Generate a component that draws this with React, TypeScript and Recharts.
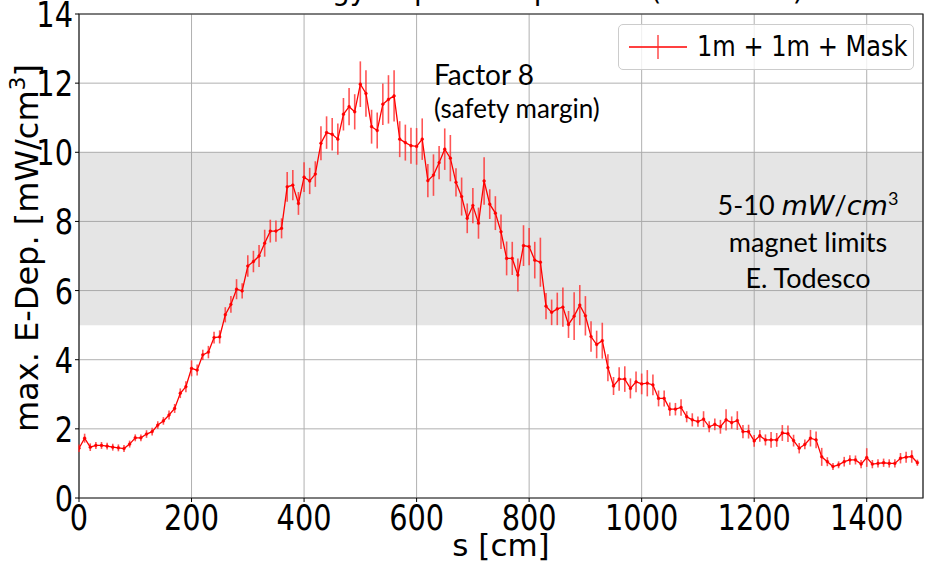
import React from 'react';
import {
    ComposedChart, Line, ErrorBar, XAxis, YAxis, CartesianGrid, ReferenceArea,
} from 'recharts';

// s position along the element [cm]
const S_CM = [
    0, 10, 20, 30, 40, 50, 60, 70, 80, 90,
    100, 110, 120, 130, 140, 150, 160, 170, 180, 190,
    200, 210, 220, 230, 240, 250, 260, 270, 280, 290,
    300, 310, 320, 330, 340, 350, 360, 370, 380, 390,
    400, 410, 420, 430, 440, 450, 460, 470, 480, 490,
    500, 510, 520, 530, 540, 550, 560, 570, 580, 590,
    600, 610, 620, 630, 640, 650, 660, 670, 680, 690,
    700, 710, 720, 730, 740, 750, 760, 770, 780, 790,
    800, 810, 820, 830, 840, 850, 860, 870, 880, 890,
    900, 910, 920, 930, 940, 950, 960, 970, 980, 990,
    1000, 1010, 1020, 1030, 1040, 1050, 1060, 1070, 1080, 1090,
    1100, 1110, 1120, 1130, 1140, 1150, 1160, 1170, 1180, 1190,
    1200, 1210, 1220, 1230, 1240, 1250, 1260, 1270, 1280, 1290,
    1300, 1310, 1320, 1330, 1340, 1350, 1360, 1370, 1380, 1390,
    1400, 1410, 1420, 1430, 1440, 1450, 1460, 1470, 1480, 1490,
];

// max. energy deposition [mW/cm3], "1m + 1m + Mask"
const EDEP = [
    1.44, 1.73, 1.47, 1.52, 1.52, 1.50, 1.47, 1.45, 1.43, 1.56,
    1.74, 1.74, 1.85, 1.92, 2.11, 2.23, 2.40, 2.59, 3.03, 3.22,
    3.75, 3.70, 4.14, 4.22, 4.64, 4.66, 5.30, 5.60, 6.04, 5.99,
    6.71, 6.84, 7.00, 7.37, 7.72, 7.72, 7.80, 9.00, 9.05, 8.52,
    9.28, 9.17, 9.37, 10.26, 10.57, 10.52, 10.38, 11.10, 11.32, 11.17,
    11.97, 11.70, 10.74, 10.63, 11.39, 11.53, 11.63, 10.38, 10.28, 10.19,
    10.17, 10.38, 9.18, 9.34, 9.70, 10.09, 9.83, 9.13, 8.72, 8.09,
    8.46, 7.95, 9.17, 8.50, 8.24, 7.70, 6.93, 6.93, 6.45, 7.30,
    7.27, 6.88, 6.82, 5.55, 5.37, 5.47, 5.52, 5.02, 5.26, 5.58,
    5.27, 4.67, 4.44, 4.55, 3.77, 3.24, 3.44, 3.44, 3.17, 3.36,
    3.30, 3.32, 3.27, 2.88, 2.88, 2.57, 2.57, 2.62, 2.35, 2.26,
    2.21, 2.28, 2.06, 2.13, 2.06, 2.26, 2.18, 2.24, 1.92, 1.92,
    1.65, 1.80, 1.68, 1.68, 1.68, 1.88, 1.86, 1.66, 1.44, 1.55,
    1.73, 1.68, 1.19, 1.05, 0.91, 0.96, 1.05, 1.10, 1.10, 0.98,
    1.17, 0.98, 1.00, 1.02, 1.00, 1.00, 1.15, 1.18, 1.20, 1.02,
];

// statistical error (half length of the bar)
const EDEP_ERR = [
    0.11, 0.13, 0.11, 0.10, 0.10, 0.10, 0.10, 0.10, 0.10, 0.10,
    0.10, 0.10, 0.11, 0.11, 0.11, 0.11, 0.13, 0.13, 0.14, 0.16,
    0.23, 0.16, 0.15, 0.18, 0.17, 0.19, 0.22, 0.24, 0.29, 0.22,
    0.31, 0.31, 0.32, 0.39, 0.33, 0.31, 0.29, 0.43, 0.44, 0.33,
    0.43, 0.38, 0.37, 0.49, 0.47, 0.47, 0.45, 0.47, 0.54, 0.51,
    0.66, 0.67, 0.49, 0.52, 0.60, 0.70, 0.74, 0.52, 0.52, 0.52,
    0.53, 0.60, 0.48, 0.60, 0.48, 0.60, 0.67, 0.41, 0.55, 0.43,
    0.51, 0.45, 0.69, 0.43, 0.49, 0.50, 0.49, 0.48, 0.48, 0.59,
    0.54, 0.53, 0.71, 0.38, 0.37, 0.47, 0.57, 0.39, 0.69, 0.58,
    0.57, 0.44, 0.40, 0.52, 0.39, 0.26, 0.34, 0.37, 0.29, 0.30,
    0.30, 0.38, 0.30, 0.23, 0.23, 0.19, 0.18, 0.24, 0.16, 0.19,
    0.15, 0.23, 0.16, 0.17, 0.20, 0.31, 0.18, 0.27, 0.19, 0.20,
    0.17, 0.17, 0.16, 0.23, 0.20, 0.23, 0.24, 0.17, 0.15, 0.14,
    0.24, 0.24, 0.26, 0.13, 0.10, 0.10, 0.14, 0.14, 0.13, 0.12,
    0.27, 0.12, 0.12, 0.12, 0.12, 0.12, 0.15, 0.16, 0.18, 0.09,
];

const X_TICKS = [0, 200, 400, 600, 800, 1000, 1200, 1400];
const Y_TICKS = [0, 2, 4, 6, 8, 10, 12, 14];
const MAGNET_LIMITS = [5, 10];

const SERIES_NAME = '1m + 1m + Mask';
const RED = '#ff0000';
const FONT = '"DejaVu Sans", sans-serif';
const NOTE_FONT = 'Lato, "Open Sans", sans-serif';

const data = S_CM.map((s, i) => ({ s, edep: EDEP[i], err: EDEP_ERR[i] }));

const XTick = ({ x, y, payload }: any) => (
    <g transform={`translate(${x},${y + 26})`}>
        <text transform="scale(0.8,1)" textAnchor="middle" fontFamily={FONT} fontSize={36} fill="#000">
            {payload.value}
        </text>
    </g>
);

const YTick = ({ x, y, payload }: any) => (
    <g transform={`translate(${x},${y + 13})`}>
        <text transform="scale(0.8,1)" textAnchor="end" fontFamily={FONT} fontSize={36} fill="#000">
            {payload.value}
        </text>
    </g>
);

export default function App() {
    return (
        <div style={{ position: 'absolute', left: 0, top: 0, width: 926, height: 561, background: '#fff', overflow: 'hidden' }}>
            <ComposedChart width={926} height={561} data={data} margin={{ top: 14, right: 3, bottom: 0, left: 0 }}>
                {/* title, cut off by the top edge of the figure */}
                <text x={536} y={0} textAnchor="middle" fontFamily={FONT} fontSize={28} fill="#000">
                    Energy Deposition per Coil (1m + 1m)
                </text>
                <CartesianGrid stroke="#b0b0b0" strokeWidth={1} />
                <ReferenceArea
                    y1={MAGNET_LIMITS[0]}
                    y2={MAGNET_LIMITS[1]}
                    x1={0}
                    x2={1500}
                    fill="#999999"
                    fillOpacity={0.25}
                    stroke="none"
                    ifOverflow="hidden"
                />
                <XAxis
                    dataKey="s"
                    type="number"
                    domain={[0, 1500]}
                    ticks={X_TICKS}
                    allowDataOverflow
                    height={63}
                    axisLine={false}
                    tickLine={{ stroke: '#000' }}
                    tickSize={4}
                    tickMargin={2}
                    tick={<XTick />}
                    interval={0}
                />
                <YAxis
                    type="number"
                    domain={[0, 14]}
                    ticks={Y_TICKS}
                    allowDataOverflow
                    width={79}
                    axisLine={false}
                    tickLine={{ stroke: '#000' }}
                    tickSize={4}
                    tickMargin={2}
                    tick={<YTick />}
                    interval={0}
                />
                <ReferenceArea x1={0} x2={1500} y1={0} y2={14} fill="none" stroke="#222" strokeWidth={1.2} />
                <Line
                    dataKey="edep"
                    name={SERIES_NAME}
                    stroke={RED}
                    strokeWidth={1.3}
                    dot={{ r: 1.4, fill: RED, stroke: RED, strokeWidth: 0.5 }}
                    isAnimationActive={false}
                >
                    <ErrorBar dataKey="err" direction="y" width={0} stroke="#ff2a2a" strokeWidth={1.6} strokeOpacity={0.8} />
                </Line>
            </ComposedChart>

            {/* legend */}
            <div style={{
                position: 'absolute', left: 618, top: 24, width: 294, height: 44,
                border: '1px solid #cccccc', borderRadius: 5, background: 'rgba(255,255,255,0.8)',
            }}>
                <svg width={70} height={44} style={{ position: 'absolute', left: 6, top: 0 }}>
                    <line x1={4} x2={62} y1={22} y2={22} stroke={RED} strokeWidth={1.5} />
                    <line x1={33} x2={33} y1={10} y2={34} stroke="#ff2a2a" strokeWidth={1.6} strokeOpacity={0.8} />
                </svg>
                <div style={{
                    position: 'absolute', left: 78, top: 5, fontFamily: FONT, fontSize: 28, lineHeight: '34px',
                    transform: 'scaleX(0.86)', transformOrigin: 'left center', whiteSpace: 'nowrap',
                }}>
                    {SERIES_NAME}
                </div>
            </div>

            {/* axis labels */}
            <div style={{
                position: 'absolute', left: 27, top: 248, transform: 'translate(-50%,-50%) rotate(-90deg)',
                fontFamily: FONT, fontSize: 32, whiteSpace: 'nowrap', lineHeight: 1,
            }}>
                max. E-Dep. [mW/cm<span style={{ fontSize: 22, position: 'relative', top: -13 }}>3</span>]
            </div>
            <div style={{
                position: 'absolute', left: 501, top: 545, transform: 'translate(-50%,-50%)',
                fontFamily: FONT, fontSize: 31, whiteSpace: 'nowrap', lineHeight: 1,
            }}>
                s [cm]
            </div>

            {/* annotations */}
            <div style={{ position: 'absolute', left: 434, top: 58, fontFamily: NOTE_FONT, fontSize: 28, lineHeight: 1.15, whiteSpace: 'nowrap' }}>
                Factor 8
            </div>
            <div style={{ position: 'absolute', left: 434, top: 94, fontFamily: NOTE_FONT, fontSize: 26, lineHeight: 1.15, whiteSpace: 'nowrap' }}>
                (safety margin)
            </div>
            <div style={{
                position: 'absolute', left: 808, top: 180, transform: 'translateX(-50%)', textAlign: 'center',
                fontFamily: NOTE_FONT, fontSize: 27, lineHeight: '36px', whiteSpace: 'nowrap',
            }}>
                <div>5-10 <i style={{ fontFamily: FONT }}>mW</i>/<i style={{ fontFamily: FONT }}>cm</i><sup style={{ fontSize: 18 }}>3</sup></div>
                <div>magnet limits</div>
                <div>E. Todesco</div>
            </div>
        </div>
    );
}
